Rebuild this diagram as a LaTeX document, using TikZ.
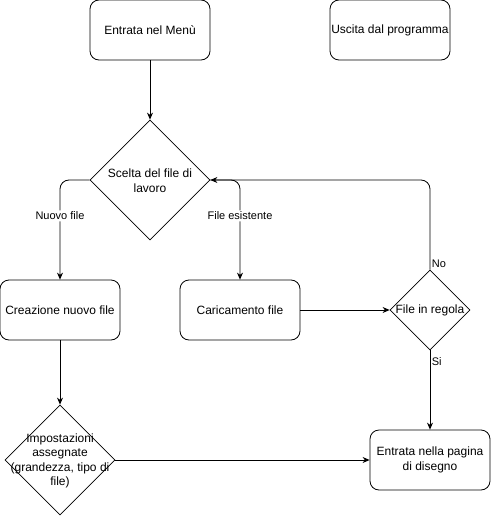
\documentclass[tikz,border=0pt]{standalone}
\usepackage{fontspec}
\setmainfont{Liberation Sans}
\usetikzlibrary{shapes.geometric,arrows.meta}
\begin{document}
\begin{tikzpicture}[x=1pt,y=-1pt,
  box/.style={draw,rounded corners=9pt,minimum width=120pt,minimum height=60pt,inner sep=0pt,align=center,font=\fontsize{12}{15}\selectfont,line width=0.8pt},
  dec/.style={draw,diamond,inner sep=0pt,line width=0.8pt},
  dtext/.style={align=center,font=\fontsize{12}{14.5}\selectfont,inner sep=0pt},
  lbl/.style={font=\fontsize{11}{13}\selectfont,inner sep=1.5pt},
  arr/.style={-{Stealth[length=7pt,width=6pt]},line width=0.8pt,rounded corners=9pt}]
\useasboundingbox (0,0) rectangle (491,516);
\node[box] (menu) at (150,30) {Entrata nel Menù};
\node[box] (uscita) at (390,30) {Uscita dal programma};
\node[dec,minimum width=120pt,minimum height=120pt] (scelta) at (150,180) {};
\node[dtext] (sceltaT) at (150,180.5) {Scelta del file di\\lavoro};
\node[box] (creaz) at (60,310) {Creazione nuovo file};
\node[box] (carica) at (240,310) {Caricamento file};
\node[dec,minimum width=80pt,minimum height=80pt] (regola) at (430,310) {};
\node[dtext] (regolaT) at (430,310) {File in regola};
\node[dec,minimum width=110pt,minimum height=110pt] (impost) at (60,460) {};
\node[dtext] (impostT) at (60,461) {Impostazioni\\assegnate\\(grandezza, tipo di\\file)};
\node[box] (entrata) at (430,460) {Entrata nella pagina\\di disegno};
\draw[arr] (menu) -- (scelta);
\draw[arr] (scelta.west) -| node[lbl,fill=white,pos=0.68] {Nuovo file} (creaz.north);
\draw[arr] (scelta.east) -| node[lbl,fill=white,pos=0.68] {File esistente} (carica.north);
\draw[arr] (regola.north) |- node[lbl,pos=0,anchor=south west] {No} (scelta.east);
\draw[arr] (carica) -- (regola);
\draw[arr] (regola.south) -- node[lbl,pos=0,anchor=north west,yshift=-5pt] {Si} (entrata.north);
\draw[arr] (creaz) -- (impost);
\draw[arr] (impost.east) -- (entrata.west);
\end{tikzpicture}
\end{document}
